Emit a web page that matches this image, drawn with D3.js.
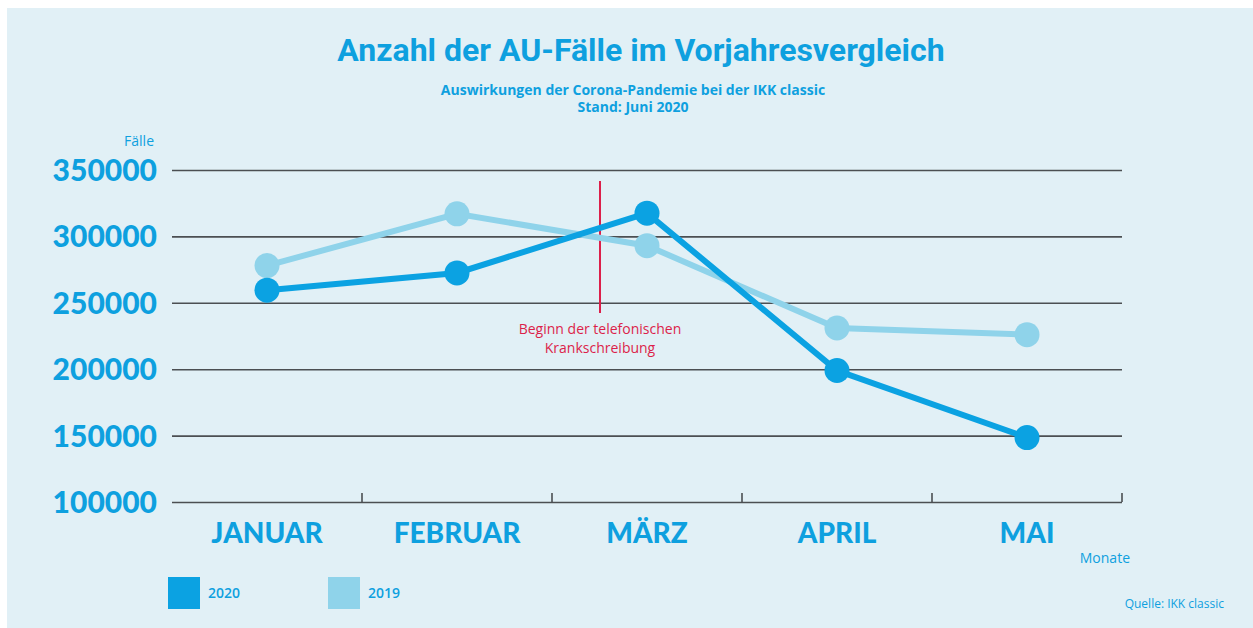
<!DOCTYPE html>
<html>
<head>
<meta charset="utf-8">
<script src="https://cdn.jsdelivr.net/npm/d3@7"></script>
<style>
  html, body { margin: 0; padding: 0; background: #fff; }
  svg { display: block; }
</style>
</head>
<body>
<svg id="chart"></svg>
<script>
const months = ["JANUAR", "FEBRUAR", "MÄRZ", "APRIL", "MAI"];
const values2020 = [259500, 272500, 317500, 199000, 148500];
const values2019 = [278000, 317000, 293000, 231000, 226000];
const yTicks = [100000, 150000, 200000, 250000, 300000, 350000];
const seriesNames = ["2020", "2019"];

const width = 1253, height = 628;
const colors = { "2020": "#0ba2e2", "2019": "#8fd3ea" };
const textBlue = "#0ea0df";
const red = "#dc1f4a";

const svg = d3.select("#chart").attr("width", width).attr("height", height);

// panel background
svg.append("rect")
  .attr("x", 7).attr("y", 8)
  .attr("width", width - 7).attr("height", height - 8)
  .attr("fill", "#e1f0f6");

const plot = { left: 172, right: 1122, top: 170, bottom: 502 };

const x = d3.scaleBand().domain(months).range([plot.left, plot.right]);
const y = d3.scaleLinear().domain([100000, 350000]).range([plot.bottom, plot.top]);

// titles
svg.append("text")
  .attr("x", 641).attr("y", 61)
  .attr("text-anchor", "middle")
  .attr("font-family", "Roboto, sans-serif")
  .attr("font-weight", 700)
  .attr("font-size", 32)
  .attr("fill", textBlue)
  .text("Anzahl der AU-Fälle im Vorjahresvergleich");

svg.append("text")
  .attr("x", 633).attr("y", 95)
  .attr("text-anchor", "middle")
  .attr("font-family", "'Open Sans', sans-serif")
  .attr("font-weight", 700)
  .attr("font-size", 14)
  .attr("fill", textBlue)
  .text("Auswirkungen der Corona-Pandemie bei der IKK classic");

svg.append("text")
  .attr("x", 633).attr("y", 112)
  .attr("text-anchor", "middle")
  .attr("font-family", "'Open Sans', sans-serif")
  .attr("font-weight", 700)
  .attr("font-size", 14)
  .attr("fill", textBlue)
  .text("Stand: Juni 2020");

// y axis gridlines and labels
const yAxis = svg.append("g")
  .attr("transform", `translate(${plot.left},0)`)
  .call(d3.axisLeft(y).tickValues(yTicks).tickSize(-(plot.right - plot.left)).tickPadding(15).tickFormat(d3.format("d")));
yAxis.select(".domain").remove();
yAxis.selectAll(".tick line").attr("stroke", "#4b4f52").attr("stroke-width", 1.6);
yAxis.selectAll(".tick text")
  .attr("font-family", "Lato, sans-serif")
  .attr("font-weight", 900)
  .attr("font-size", 30)
  .attr("fill", textBlue)
  .attr("dy", "0.35em");

svg.append("text")
  .attr("x", 154).attr("y", 146)
  .attr("text-anchor", "end")
  .attr("font-family", "'Open Sans', sans-serif")
  .attr("font-size", 14)
  .attr("fill", textBlue)
  .text("Fälle");

// x axis
const xAxis = svg.append("g")
  .attr("transform", `translate(0,${plot.bottom})`)
  .call(d3.axisBottom(x).tickSize(0).tickPadding(21));
xAxis.select(".domain").remove();
xAxis.selectAll(".tick text")
  .attr("font-family", "Lato, sans-serif")
  .attr("font-weight", 900)
  .attr("font-size", 28)
  .attr("fill", textBlue);

// band boundary ticks
const boundaries = months.slice(1).map(m => x(m)).concat([plot.right]);
svg.append("g").selectAll("line")
  .data(boundaries)
  .join("line")
  .attr("x1", d => d).attr("x2", d => d)
  .attr("y1", plot.bottom - 9).attr("y2", plot.bottom)
  .attr("stroke", "#4b4f52").attr("stroke-width", 1.6);

svg.append("text")
  .attr("x", 1130).attr("y", 563)
  .attr("text-anchor", "end")
  .attr("font-family", "'Open Sans', sans-serif")
  .attr("font-size", 14)
  .attr("fill", textBlue)
  .text("Monate");

// annotation line
const annX = 600;
svg.append("line")
  .attr("x1", annX).attr("x2", annX)
  .attr("y1", 181).attr("y2", 313)
  .attr("stroke", red).attr("stroke-width", 2);
svg.append("text")
  .attr("x", annX).attr("y", 334)
  .attr("text-anchor", "middle")
  .attr("font-family", "'Open Sans', sans-serif")
  .attr("font-size", 14)
  .attr("fill", red)
  .text("Beginn der telefonischen");
svg.append("text")
  .attr("x", annX).attr("y", 353)
  .attr("text-anchor", "middle")
  .attr("font-family", "'Open Sans', sans-serif")
  .attr("font-size", 14)
  .attr("fill", red)
  .text("Krankschreibung");

// series
const cx = d => x(d) + x.bandwidth() / 2;
const series = [
  { name: "2019", values: values2019 },
  { name: "2020", values: values2020 }
];
const line = d3.line().x((d, i) => cx(months[i])).y(d => y(d));

series.forEach(s => {
  svg.append("path")
    .datum(s.values)
    .attr("d", line)
    .attr("fill", "none")
    .attr("stroke", colors[s.name])
    .attr("stroke-width", 6);
  svg.append("g").selectAll("circle")
    .data(s.values)
    .join("circle")
    .attr("cx", (d, i) => cx(months[i]))
    .attr("cy", d => y(d))
    .attr("r", 12.5)
    .attr("fill", colors[s.name]);
});

// legend
const legendX = [168, 328];
seriesNames.forEach((n, i) => {
  svg.append("rect")
    .attr("x", legendX[i]).attr("y", 577)
    .attr("width", 32).attr("height", 32)
    .attr("fill", colors[n]);
  svg.append("text")
    .attr("x", legendX[i] + 40).attr("y", 598)
    .attr("font-family", "'Open Sans', sans-serif")
    .attr("font-weight", 600)
    .attr("font-size", 14)
    .attr("fill", textBlue)
    .text(n);
});

svg.append("text")
  .attr("x", 1224).attr("y", 608)
  .attr("text-anchor", "end")
  .attr("font-family", "'Open Sans', sans-serif")
  .attr("font-size", 12)
  .attr("fill", textBlue)
  .text("Quelle: IKK classic");
</script>
</body>
</html>
